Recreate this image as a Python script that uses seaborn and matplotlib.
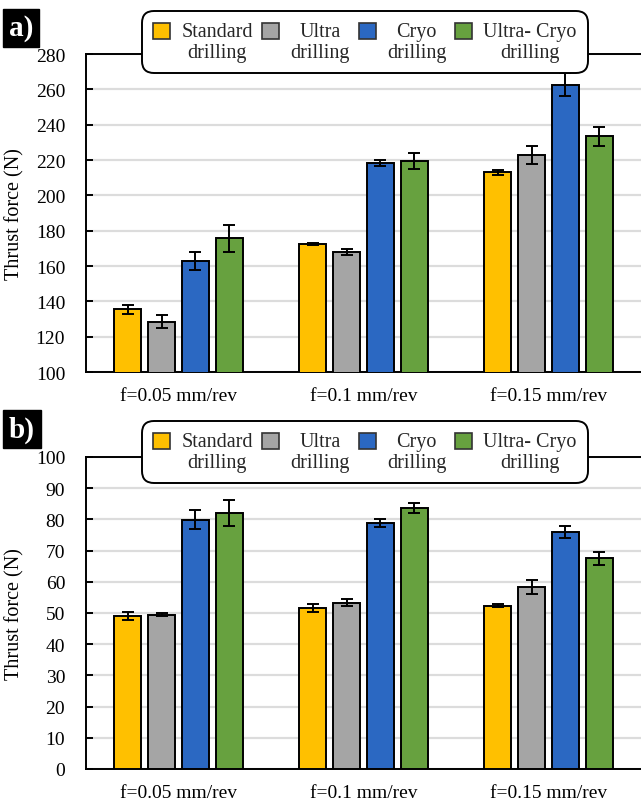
import matplotlib
matplotlib.use("Agg")
import matplotlib.pyplot as plt
import seaborn as sns
import pandas as pd
import numpy as np
from matplotlib.patches import Patch, Rectangle
from matplotlib.legend_handler import HandlerPatch

# ---- data ----
feeds = ["f=0.05 mm/rev", "f=0.1 mm/rev", "f=0.15 mm/rev"]
methods = ["Standard\ndrilling", "Ultra\ndrilling", "Cryo\ndrilling", "Ultra- Cryo\ndrilling"]
colors = ["#FFC000", "#A5A5A5", "#2B68C2", "#67A13F"]

# panel a (thrust force, N)
a_standard = [135.6, 172.5, 213.0]
a_ultra = [128.4, 168.0, 223.0]
a_cryo = [162.7, 218.3, 262.6]
a_ultracryo = [175.6, 219.4, 233.4]
a_standard_err = [2.5, 0.5, 1.5]
a_ultra_err = [3.6, 1.8, 5.0]
a_cryo_err = [5.1, 1.6, 6.5]
a_ultracryo_err = [7.4, 4.7, 5.5]

# panel b (thrust force, N)
b_standard = [49.1, 51.6, 52.4]
b_ultra = [49.5, 53.3, 58.3]
b_cryo = [79.9, 78.8, 75.9]
b_ultracryo = [82.1, 83.8, 67.6]
b_standard_err = [1.2, 1.4, 0.5]
b_ultra_err = [0.4, 1.2, 2.3]
b_cryo_err = [3.0, 1.2, 2.0]
b_ultracryo_err = [4.1, 1.6, 2.1]

a_ticks = [100, 120, 140, 160, 180, 200, 220, 240, 260, 280]
b_ticks = [0, 10, 20, 30, 40, 50, 60, 70, 80, 90, 100]

sns.set_theme(style="white")
plt.rcParams["font.family"] = ["Liberation Serif", "DejaVu Serif"]

W, H = 641, 803
fig = plt.figure(figsize=(W / 100, H / 100), dpi=100)

LEG_FS = 14.5


def raised_patch(legend, orig_handle, xdescent, ydescent, width, height, fontsize):
    return Rectangle((-xdescent, -ydescent + 0.55 * fontsize), width, height)


def make_df(vals, errs):
    rows = []
    for m, v, e in zip(methods, vals, errs):
        for f, vv, ee in zip(feeds, v, e):
            rows.append({"feed": f, "method": m, "value": vv, "err": ee})
    return pd.DataFrame(rows)


def panel(rect, vals, errs, ylim, ticks, label, label_y, leg_y):
    ax = fig.add_axes(rect)
    df = make_df(vals, errs)
    sns.barplot(data=df, x="feed", y="value", hue="method", order=feeds,
                hue_order=methods, palette=colors, saturation=1, width=0.735, gap=0.2,
                edgecolor="black", linewidth=1.4, errorbar=None, ax=ax,
                legend=False, zorder=3)
    bars_sorted = sorted(ax.patches, key=lambda p: p.get_x())
    for m_i, m in enumerate(methods):
        sub = df[df["method"] == m]
        for f_i, f in enumerate(feeds):
            row = sub[sub["feed"] == f].iloc[0]
            p = bars_sorted[f_i * len(methods) + m_i]
            cx = p.get_x() + p.get_width() / 2
            ax.errorbar(cx, row["value"], yerr=row["err"], fmt="none",
                        ecolor="black", elinewidth=1.4, capsize=4,
                        capthick=1.4, zorder=4)
    ax.set_ylim(*ylim)
    ax.set_xlim(-0.5, 2.5)
    ax.set_yticks(ticks)
    ax.yaxis.grid(True, color="#DCDCDC", linewidth=1.6, zorder=0)
    ax.set_axisbelow(True)
    ax.set_xlabel("")
    ax.set_ylabel("Thrust force (N)", fontsize=14.5, labelpad=8, color="black")
    for s in ["left", "bottom", "top"]:
        ax.spines[s].set_visible(True)
        ax.spines[s].set_color("black")
        ax.spines[s].set_linewidth(1.4)
    ax.spines["right"].set_visible(False)
    ax.tick_params(axis="y", direction="in", length=5, width=1.4,
                   labelsize=14, pad=15, colors="black", left=True)
    ax.tick_params(axis="x", length=0, labelsize=14, pad=11, colors="black")
    # panel label
    fig.text(9 / W, label_y, label, fontsize=21, fontweight="bold",
             color="white", ha="left", va="center",
             bbox=dict(boxstyle="square,pad=0.2", fc="black", ec="black"))
    handles = [Patch(facecolor=c, edgecolor="#333333", linewidth=1.2) for c in colors]
    leg = fig.legend(handles, methods, loc="center", bbox_to_anchor=(365 / W, leg_y),
                     ncol=4, frameon=True, fancybox=True, fontsize=LEG_FS,
                     handlelength=0.85, handleheight=0.85, handletextpad=0.55,
                     columnspacing=0.45, borderpad=0.3, labelspacing=0.2,
                     handler_map={Patch: HandlerPatch(patch_func=raised_patch)})
    fr = leg.get_frame()
    fr.set_edgecolor("black")
    fr.set_linewidth(1.4)
    fr.set_facecolor("white")
    fr.set_alpha(1)
    fr.set_boxstyle("round,pad=0.25,rounding_size=0.6")
    for t in leg.get_texts():
        t.set_multialignment("center")
    leg.set_zorder(10)
    return ax


left = 86 / W
width = 1 - left
panel([left, 1 - 373 / H, width, (373 - 55) / H],
      [a_standard, a_ultra, a_cryo, a_ultracryo],
      [a_standard_err, a_ultra_err, a_cryo_err, a_ultracryo_err],
      (100, 280), a_ticks, "a)", 1 - 29 / H, 1 - 43 / H)
panel([left, 1 - 770 / H, width, (770 - 458) / H],
      [b_standard, b_ultra, b_cryo, b_ultracryo],
      [b_standard_err, b_ultra_err, b_cryo_err, b_ultracryo_err],
      (0, 100), b_ticks, "b)", 1 - 430 / H, 1 - 453 / H)

fig.savefig("out.png", dpi=100)
